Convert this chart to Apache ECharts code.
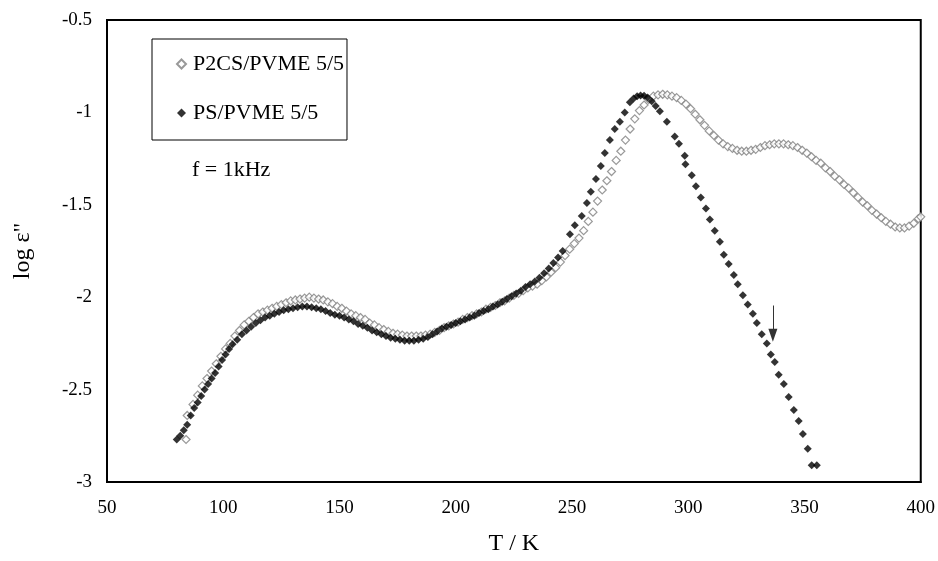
<!DOCTYPE html>
<html>
<head>
<meta charset="utf-8">
<script src="https://cdn.jsdelivr.net/npm/echarts@6/dist/echarts.min.js"></script>
<style>
  html, body { margin: 0; padding: 0; background: #fff; }
  #chart { width: 938px; height: 561px; }
</style>
</head>
<body>
<div id="chart"></div>
<script>
// Dielectric loss at f = 1 kHz versus temperature for two blends.
const xTicks = [50, 100, 150, 200, 250, 300, 350, 400];
const yTicks = [-3, -2.5, -2, -1.5, -1, -0.5];

const seriesNames = ['P2CS/PVME 5/5', 'PS/PVME 5/5'];

// P2CS/PVME 5/5: temperature (K) and log eps''
const p2csT = [84, 84.5, 87, 89, 91, 93, 95, 97, 99, 101, 103, 105, 107, 109, 111, 113, 115, 117, 119, 121,
  123, 125, 127, 129, 131, 133, 135, 137, 139, 141, 143, 145, 147, 149, 151, 153, 155, 157, 159, 161,
  163, 165, 167, 169, 171, 173, 175, 177, 179, 181, 183, 185, 187, 189, 191, 193, 195, 197, 199, 201,
  203, 205, 207, 209, 211, 213, 215, 217, 219, 221, 223, 225, 227, 229, 231, 233, 235, 237, 239, 241,
  243, 245, 247, 249, 251, 253, 255, 257, 259, 261, 263, 265, 267, 269, 271, 273, 275, 277, 279, 281,
  283, 285, 287, 289, 291, 293, 295, 297, 299, 301, 303, 305, 307, 309, 311, 313, 315, 317, 319, 321,
  323, 325, 327, 329, 331, 333, 335, 337, 339, 341, 343, 345, 347, 349, 351, 353, 355, 357, 359, 361,
  363, 365, 367, 369, 371, 373, 375, 377, 379, 381, 383, 385, 387, 389, 391, 393, 395, 397, 399, 400];
const p2csLogE = [-2.77, -2.64, -2.58, -2.53, -2.48, -2.44, -2.40, -2.36, -2.32, -2.28, -2.25, -2.21, -2.18, -2.15, -2.13, -2.11, -2.09, -2.08, -2.07, -2.06,
  -2.05, -2.04, -2.03, -2.02, -2.015, -2.01, -2.005, -2.00, -2.005, -2.01, -2.015, -2.025, -2.035, -2.05, -2.06, -2.075, -2.09, -2.10, -2.11, -2.12,
  -2.14, -2.15, -2.165, -2.175, -2.185, -2.195, -2.20, -2.205, -2.21, -2.21, -2.21, -2.21, -2.205, -2.20, -2.19, -2.18, -2.165, -2.155, -2.145, -2.135,
  -2.12, -2.11, -2.10, -2.09, -2.08, -2.065, -2.055, -2.045, -2.03, -2.02, -2.005, -1.99, -1.98, -1.965, -1.95, -1.94, -1.93, -1.91, -1.89, -1.865,
  -1.84, -1.81, -1.775, -1.74, -1.71, -1.68, -1.64, -1.59, -1.54, -1.48, -1.42, -1.37, -1.32, -1.26, -1.21, -1.15, -1.09, -1.035, -0.99, -0.96,
  -0.93, -0.912, -0.905, -0.902, -0.905, -0.912, -0.92, -0.935, -0.955, -0.98, -1.01, -1.04, -1.07, -1.10, -1.125, -1.15, -1.17, -1.185, -1.195, -1.205,
  -1.21, -1.21, -1.205, -1.20, -1.19, -1.18, -1.175, -1.17, -1.17, -1.17, -1.175, -1.18, -1.19, -1.205, -1.22, -1.24, -1.26, -1.275, -1.30, -1.32,
  -1.345, -1.365, -1.39, -1.41, -1.435, -1.46, -1.485, -1.505, -1.53, -1.55, -1.57, -1.59, -1.605, -1.62, -1.625, -1.625, -1.615, -1.60, -1.575, -1.565];

// PS/PVME 5/5: temperature (K) and log eps''
const psT = [80, 81.5, 83, 84.5, 86, 87.5, 89, 90.5, 92, 93.5, 95, 96.5, 98, 99.5, 101, 102.5, 104, 106, 108, 110,
  112, 114, 116, 118, 120, 122, 124, 126, 128, 130, 132, 134, 136, 138, 140, 142, 144, 146, 148, 150,
  152, 154, 156, 158, 160, 162, 164, 166, 168, 170, 172, 174, 176, 178, 180, 182, 184, 186, 188, 190,
  192, 194, 196, 198, 200, 202, 204, 206, 208, 210, 212, 214, 216, 218, 220, 222, 224, 226, 228, 230,
  232, 234, 236, 238, 240, 242, 244, 246, 249.1, 251.2, 254.2, 256.4, 258.1, 260.3, 262.4, 264.1, 266.3, 268.4, 270.6, 272.7,
  274.9, 276.5, 278, 279.5, 281, 282.5, 284.3, 286, 287.8, 290.8, 294.2, 296, 298.5, 298.8, 301.5, 303.3, 305.4, 307.6, 309.3, 311.4,
  313.6, 315.3, 317.4, 319.6, 321.3, 323.5, 325.6, 327.8, 329.5, 331.6, 333.8, 335.5, 337.2, 338.9, 341.1, 343.2, 345.4, 347.5, 349.3, 351.4,
  353.1, 355.3];
const psLogE = [-2.77, -2.75, -2.72, -2.69, -2.64, -2.60, -2.57, -2.535, -2.50, -2.47, -2.44, -2.41, -2.375, -2.34, -2.31, -2.28, -2.255, -2.23, -2.20, -2.18,
  -2.16, -2.14, -2.125, -2.11, -2.10, -2.09, -2.08, -2.07, -2.065, -2.06, -2.055, -2.05, -2.05, -2.055, -2.06, -2.065, -2.075, -2.085, -2.095, -2.10,
  -2.11, -2.12, -2.13, -2.145, -2.155, -2.165, -2.18, -2.19, -2.20, -2.21, -2.22, -2.225, -2.23, -2.235, -2.235, -2.235, -2.23, -2.225, -2.215, -2.20,
  -2.185, -2.17, -2.16, -2.15, -2.14, -2.13, -2.12, -2.11, -2.10, -2.085, -2.075, -2.065, -2.05, -2.04, -2.025, -2.01, -1.995, -1.98, -1.965, -1.945,
  -1.93, -1.915, -1.895, -1.87, -1.845, -1.815, -1.785, -1.75, -1.66, -1.61, -1.56, -1.49, -1.43, -1.36, -1.29, -1.22, -1.15, -1.09, -1.05, -1.00,
  -0.945, -0.925, -0.913, -0.908, -0.91, -0.92, -0.94, -0.965, -0.994, -1.05, -1.13, -1.17, -1.235, -1.28, -1.34, -1.40, -1.46, -1.52, -1.58, -1.64,
  -1.70, -1.77, -1.82, -1.88, -1.93, -1.99, -2.04, -2.09, -2.14, -2.20, -2.25, -2.31, -2.35, -2.42, -2.47, -2.54, -2.61, -2.67, -2.74, -2.82,
  -2.91, -2.91];

// Arrow marking a point on the PS/PVME descending branch
const arrowT = 336.4;
const arrowFrom = -2.045;
const arrowTo = -2.206;

const FONT = '"Liberation Serif", "DejaVu Serif", serif';

const pair = (xs, ys) => xs.map((x, i) => [x, ys[i]]);

const chart = echarts.init(document.getElementById('chart'), null, { renderer: 'canvas' });
chart.setOption({
  animation: false,
  backgroundColor: '#ffffff',
  grid: {
    left: 107, top: 20, right: 17, bottom: 75,
    show: true, borderColor: '#000', borderWidth: 2, backgroundColor: 'transparent'
  },
  xAxis: {
    type: 'value', min: xTicks[0], max: xTicks[xTicks.length - 1], interval: 50,
    name: 'T / K', nameLocation: 'middle', nameGap: 50,
    nameTextStyle: { fontFamily: FONT, fontSize: 24, color: '#000' },
    axisLine: { show: true, lineStyle: { color: '#000', width: 2 } },
    axisTick: { show: false },
    splitLine: { show: false },
    axisLabel: { fontFamily: FONT, fontSize: 19, color: '#000', margin: 17 }
  },
  yAxis: {
    type: 'value', min: yTicks[0], max: yTicks[yTicks.length - 1], interval: 0.5,
    name: 'log ε"', nameLocation: 'middle', nameGap: 72, nameRotate: 90,
    nameTextStyle: { fontFamily: FONT, fontSize: 24, color: '#000' },
    axisLine: { show: true, lineStyle: { color: '#000', width: 2 } },
    axisTick: { show: false },
    splitLine: { show: false },
    axisLabel: { fontFamily: FONT, fontSize: 19, color: '#000', margin: 15 }
  },
  legend: {
    orient: 'vertical', left: 152, top: 39,
    padding: [14, 3, 16, 24], itemGap: 27,
    itemWidth: 9, itemHeight: 9,
    borderColor: '#000', borderWidth: 1, backgroundColor: '#fff',
    textStyle: { fontFamily: FONT, fontSize: 22, color: '#000', padding: [0, 0, 0, 2] },
    data: seriesNames
  },
  graphic: [{
    type: 'text', left: 192, top: 159,
    style: { text: 'f = 1kHz', font: '22px ' + FONT, fill: '#000' }
  }],
  series: [
    {
      name: seriesNames[0], type: 'scatter', symbol: 'diamond', symbolSize: 8,
      itemStyle: { color: '#fff', borderColor: '#808080', borderWidth: 1.2 },
      data: pair(p2csT, p2csLogE), z: 2
    },
    {
      name: seriesNames[1], type: 'scatter', symbol: 'diamond', symbolSize: 8,
      itemStyle: { color: '#000' },
      data: pair(psT, psLogE), z: 3,
      markLine: {
        silent: true, symbol: ['none', 'triangle'], symbolSize: [9, 13],
        label: { show: false },
        lineStyle: { color: '#333', width: 1, type: 'solid' },
        data: [[{ coord: [arrowT, arrowFrom] }, { coord: [arrowT, arrowTo] }]]
      }
    }
  ]
});
</script>
</body>
</html>
